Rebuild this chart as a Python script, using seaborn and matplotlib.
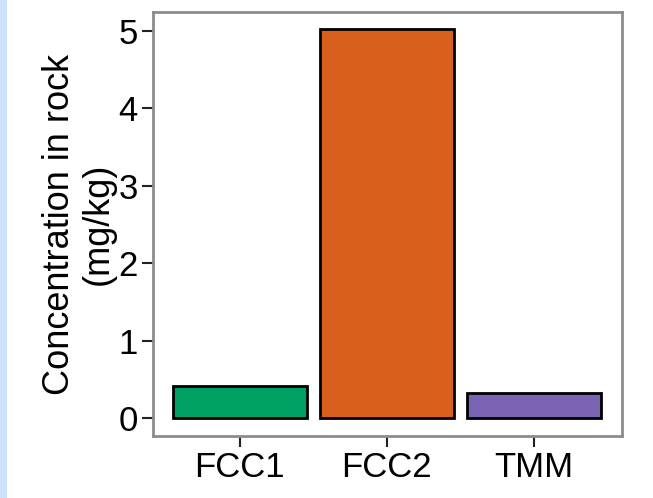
import matplotlib
matplotlib.use("Agg")
import matplotlib.pyplot as plt
import seaborn as sns
import pandas as pd
from matplotlib.patches import Rectangle

categories = ["FCC1", "FCC2", "TMM"]
values = [0.41, 5.02, 0.32]
colors = ["#00a062", "#d95f1f", "#7b63b4"]

sns.set_theme(style="white")
plt.rcParams['font.family'] = ['Liberation Sans', 'DejaVu Sans']
plt.rcParams['text.color'] = 'black'
plt.rcParams['axes.labelcolor'] = 'black'
plt.rcParams['xtick.color'] = 'black'
plt.rcParams['ytick.color'] = 'black'

df = pd.DataFrame({"cat": categories, "val": values})

fig = plt.figure(figsize=(6.53, 4.98), dpi=100)
ax = fig.add_axes([153/653, 1-436/498, (622-153)/653, (436-12)/498])

sns.barplot(data=df, x="cat", y="val", hue="cat", palette=colors, legend=False,
            width=0.91, edgecolor="black", linewidth=2, saturation=1, ax=ax)

ax.set_xlim(-0.59, 2.6)
ax.set_ylim(-0.233, 5.245)
ax.set_yticks([0, 1, 2, 3, 4, 5])
ax.set_xlabel("")
ax.set_ylabel("Concentration in rock\n(mg/kg)", fontsize=26, linespacing=1.15, labelpad=2)
ax.tick_params(axis="both", which="both", direction="out", length=8, width=1.5,
               color="#222222", labelsize=25, pad=3, left=True, bottom=True)
for s in ax.spines.values():
    s.set_color("#8c8c8c")
    s.set_linewidth(2)

fig.patches.append(Rectangle((0, 0), 7/653, 1, transform=fig.transFigure,
                             facecolor="#cfe2fb", edgecolor="none", zorder=0))

fig.savefig("out.png", dpi=100)
